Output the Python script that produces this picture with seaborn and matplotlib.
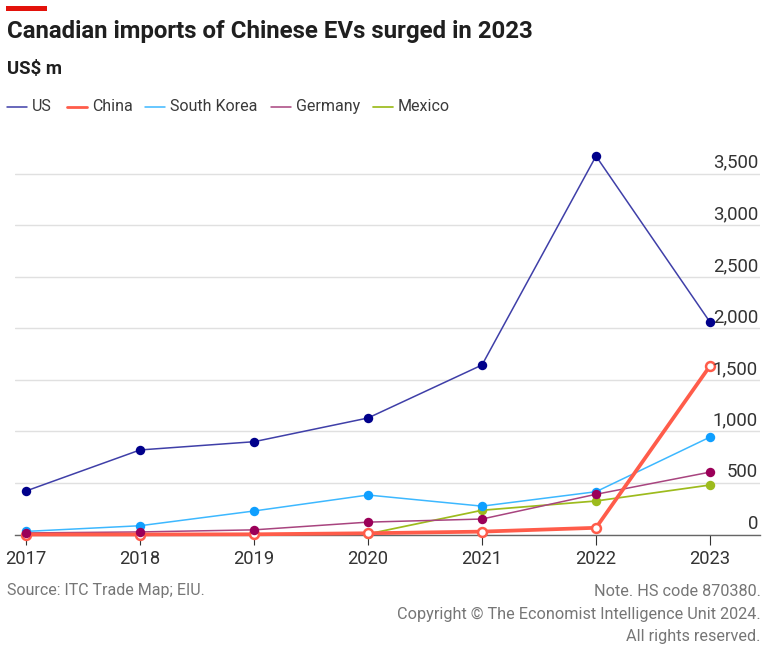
import matplotlib.pyplot as plt
import seaborn as sns
import pandas as pd
from matplotlib.patches import Rectangle

years = [2017, 2018, 2019, 2020, 2021, 2022, 2023]
us = [422, 820, 900, 1130, 1644, 3670, 2060]
china = [0, 0, 2, 12, 28, 65, 1635]
south_korea = [30, 85, 228, 383, 275, 415, 945]
germany = [15, 25, 45, 120, 150, 390, 605]
mexico = [0, 0, 2, 5, 235, 325, 480]
y_ticks = [0, 500, 1000, 1500, 2000, 2500, 3000, 3500]

W, H = 768, 659

sns.set_theme(style="white")
plt.rcParams['font.family'] = ['Roboto', 'DejaVu Sans']

df = pd.DataFrame({"year": years, "US": us, "China": china, "South Korea": south_korea,
                   "Germany": germany, "Mexico": mexico})

f = plt.figure(figsize=(W / 100, H / 100), dpi=100)
# axes box in pixels: left 15, right 760, top 140, bottom 534.5
ax = f.add_axes([15 / W, 1 - 534.5 / H, 745 / W, 394.5 / H])

styles = {
    "Mexico": ("#9dbb1d", "#9dbb1d", 1.25),
    "US": ("#3f3fa8", "#00008b", 1.1),
    "South Korea": ("#3db8ff", "#0f9fff", 1.1),
}
for name, (col, mcol, lw) in styles.items():
    sns.lineplot(data=df, x="year", y=name, ax=ax, color=col, linewidth=lw, marker="o",
                 markersize=6.8, markerfacecolor=mcol, markeredgecolor=mcol, markeredgewidth=0,
                 clip_on=False, zorder=3)
sns.lineplot(data=df, x="year", y="Germany", ax=ax, color="#a8447f", linewidth=1.1, clip_on=False, zorder=3)
sns.lineplot(data=df, x="year", y="China", ax=ax, color="#ff5c4a", linewidth=2.7, marker="o",
             markersize=6.4, markerfacecolor="white", markeredgecolor="#ff5c4a",
             markeredgewidth=1.8, clip_on=False, zorder=4)
# germany dots sit over the china rings in the early years
sns.scatterplot(data=df, x="year", y="Germany", ax=ax, color="#9b0059", s=46, linewidth=0,
                clip_on=False, zorder=5)

# x scale: 2017 at px 26, 2023 at px 710
px_per_year = (710 - 26) / 6
ax.set_xlim(2017 - (26 - 15) / px_per_year, 2023 + (760 - 710) / px_per_year)
ax.set_ylim(0, 394.5 / 0.1031)

ax.set_xlabel("")
ax.set_ylabel("")
ax.set_xticks(years)
ax.set_yticks(y_ticks)
ax.set_yticklabels([])
ax.grid(axis="y", color="#e0e0e0", linewidth=1.0)
ax.set_axisbelow(True)
ax.tick_params(axis="x", bottom=True, length=7.5, width=0.8, color="#333333", labelsize=13.2,
               labelcolor="#333333", pad=3.5)
ax.tick_params(axis="y", left=False, right=False, length=0)
for v in y_ticks:
    ax.annotate(f"{v:,}", xy=(1, v), xycoords=ax.get_yaxis_transform(), xytext=(-1.5, 4.2),
                textcoords="offset points", ha="right", va="baseline", fontsize=13.4,
                color="#333333", zorder=6)
for s in ["top", "left", "right"]:
    ax.spines[s].set_visible(False)
ax.spines["bottom"].set_color("#666666")
ax.spines["bottom"].set_linewidth(1)

def px(x, y):
    return x / W, 1 - y / H

# red tag on top
f.add_artist(Rectangle(px(6, 11), 41 / W, 5 / H, transform=f.transFigure, color="#e3120b", lw=0))

f.text(*px(7, 31.5), "Canadian imports of Chinese EVs surged in 2023", fontsize=17.25, fontweight="bold",
       color="#1f1f1f", va="center")
f.text(*px(7, 69), "US$ m", fontsize=13.4, fontweight="bold", color="#1f1f1f", va="center")

# legend by hand so the spacing follows the original
legend_items = [("US", "#3f3fa8", 7, 1.1), ("China", "#ff5c4a", 67, 2.0), ("South Korea", "#3db8ff", 145, 1.1),
                ("Germany", "#a8447f", 271, 1.1), ("Mexico", "#9dbb1d", 373, 1.25)]
for name, col, x0, lw in legend_items:
    f.add_artist(plt.Line2D([x0 / W, (x0 + 20) / W], [1 - 106.5 / H] * 2, color=col, lw=lw,
                            transform=f.transFigure))
    f.text(*px(x0 + 25, 106.5), name, fontsize=11.5, color="#3a3a3a", va="center")

f.text(*px(7, 591), "Source: ITC Trade Map; EIU.", fontsize=11.5, color="#767676", va="center")
f.text(*px(761, 591), "Note. HS code 870380.", fontsize=11.7, color="#767676", va="center", ha="right")
f.text(*px(761, 614), "Copyright © The Economist Intelligence Unit 2024.", fontsize=11.7, color="#767676",
       va="center", ha="right")
f.text(*px(761, 637), "All rights reserved.", fontsize=11.7, color="#767676", va="center", ha="right")

f.savefig("out.png", dpi=100)
